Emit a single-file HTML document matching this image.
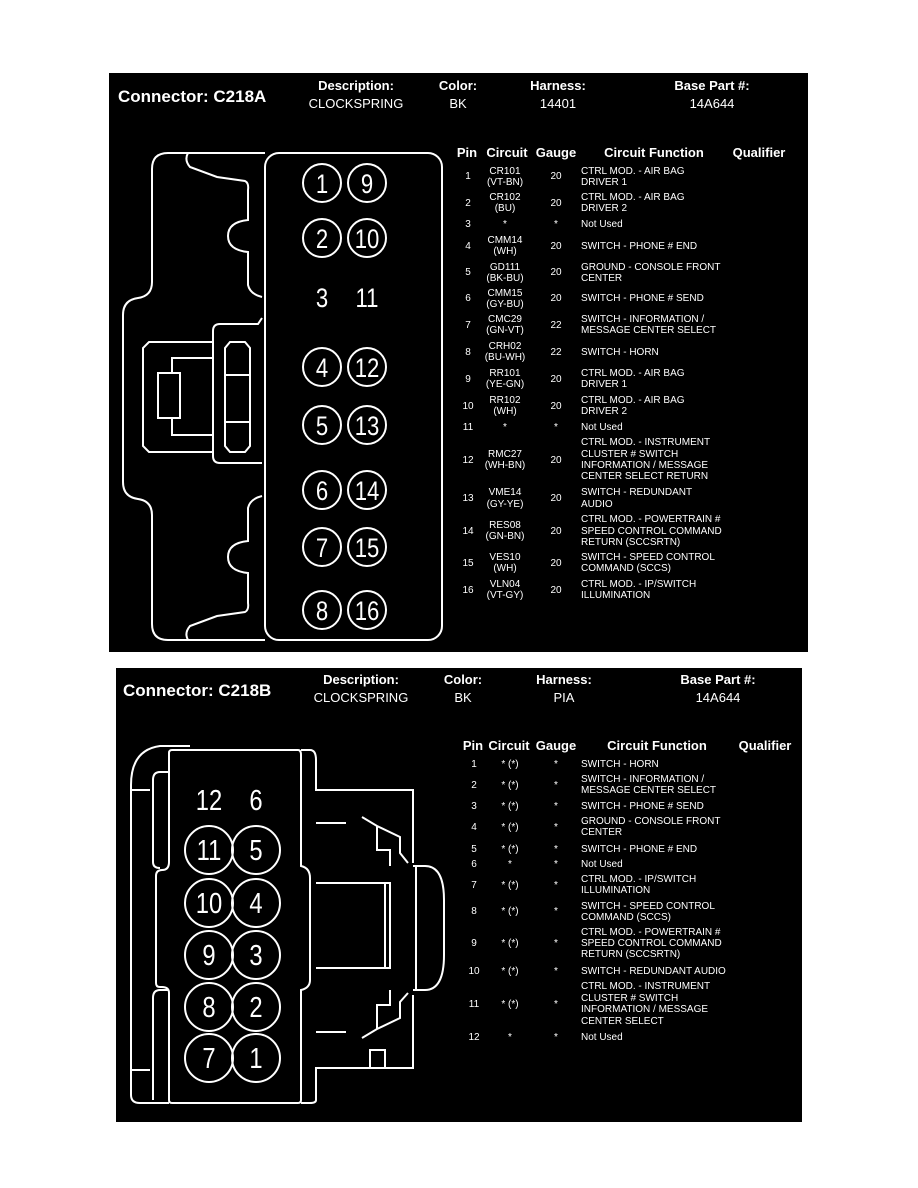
<!DOCTYPE html>
<html><head><meta charset="utf-8"><style>
html,body{margin:0;padding:0;background:#fff}
svg{display:block}
text{font-family:"Liberation Sans",Arial,sans-serif;fill:#fff}
.h{font-weight:bold;font-size:13px;text-anchor:middle}
.v{font-size:13px;text-anchor:middle}
.t{font-size:10px}
.c{text-anchor:middle}
.n{font-size:27px;text-anchor:middle}
.ln{fill:none;stroke:#fff;stroke-width:2}
</style></head><body>
<svg width="918" height="1188" viewBox="0 0 918 1188" xmlns="http://www.w3.org/2000/svg">
<rect x="109" y="73" width="699" height="579" fill="#000"/>
<rect x="116" y="668" width="686" height="454" fill="#000"/>

<text x="118" y="102" style="font-weight:bold;font-size:17px">Connector: C218A</text>
<text class="h" x="356" y="90">Description:</text><text class="v" x="356" y="108">CLOCKSPRING</text>
<text class="h" x="458" y="90">Color:</text><text class="v" x="458" y="108">BK</text>
<text class="h" x="558" y="90">Harness:</text><text class="v" x="558" y="108">14401</text>
<text class="h" x="712" y="90">Base Part #:</text><text class="v" x="712" y="108">14A644</text>

<text class="h" x="467" y="157">Pin</text>
<text class="h" x="507" y="157">Circuit</text>
<text class="h" x="556" y="157">Gauge</text>
<text class="h" x="654" y="157">Circuit Function</text>
<text class="h" x="759" y="157">Qualifier</text>

<g class="t">
<text class="c" x="468" y="179">1</text><text class="c" x="505" y="174">CR101</text><text class="c" x="505" y="185">(VT-BN)</text><text class="c" x="556" y="179">20</text><text x="581" y="174">CTRL MOD. - AIR BAG</text><text x="581" y="185">DRIVER 1</text>
<text class="c" x="468" y="206">2</text><text class="c" x="505" y="200">CR102</text><text class="c" x="505" y="211">(BU)</text><text class="c" x="556" y="206">20</text><text x="581" y="200">CTRL MOD. - AIR BAG</text><text x="581" y="211">DRIVER 2</text>
<text class="c" x="468" y="227">3</text><text class="c" x="505" y="227">*</text><text class="c" x="556" y="227">*</text><text x="581" y="227">Not Used</text>
<text class="c" x="468" y="249">4</text><text class="c" x="505" y="243">CMM14</text><text class="c" x="505" y="254">(WH)</text><text class="c" x="556" y="249">20</text><text x="581" y="249">SWITCH - PHONE # END</text>
<text class="c" x="468" y="275">5</text><text class="c" x="505" y="270">GD111</text><text class="c" x="505" y="281">(BK-BU)</text><text class="c" x="556" y="275">20</text><text x="581" y="270">GROUND - CONSOLE FRONT</text><text x="581" y="281">CENTER</text>
<text class="c" x="468" y="301">6</text><text class="c" x="505" y="296">CMM15</text><text class="c" x="505" y="307">(GY-BU)</text><text class="c" x="556" y="301">20</text><text x="581" y="301">SWITCH - PHONE # SEND</text>
<text class="c" x="468" y="328">7</text><text class="c" x="505" y="322">CMC29</text><text class="c" x="505" y="333">(GN-VT)</text><text class="c" x="556" y="328">22</text><text x="581" y="322">SWITCH - INFORMATION /</text><text x="581" y="333">MESSAGE CENTER SELECT</text>
<text class="c" x="468" y="355">8</text><text class="c" x="505" y="349">CRH02</text><text class="c" x="505" y="360">(BU-WH)</text><text class="c" x="556" y="355">22</text><text x="581" y="355">SWITCH - HORN</text>
<text class="c" x="468" y="382">9</text><text class="c" x="505" y="376">RR101</text><text class="c" x="505" y="387">(YE-GN)</text><text class="c" x="556" y="382">20</text><text x="581" y="376">CTRL MOD. - AIR BAG</text><text x="581" y="387">DRIVER 1</text>
<text class="c" x="468" y="409">10</text><text class="c" x="505" y="403">RR102</text><text class="c" x="505" y="414">(WH)</text><text class="c" x="556" y="409">20</text><text x="581" y="403">CTRL MOD. - AIR BAG</text><text x="581" y="414">DRIVER 2</text>
<text class="c" x="468" y="430">11</text><text class="c" x="505" y="430">*</text><text class="c" x="556" y="430">*</text><text x="581" y="430">Not Used</text>
<text class="c" x="468" y="463">12</text><text class="c" x="505" y="457">RMC27</text><text class="c" x="505" y="468">(WH-BN)</text><text class="c" x="556" y="463">20</text><text x="581" y="445">CTRL MOD. - INSTRUMENT</text><text x="581" y="457">CLUSTER # SWITCH</text><text x="581" y="468">INFORMATION / MESSAGE</text><text x="581" y="479">CENTER SELECT RETURN</text>
<text class="c" x="468" y="501">13</text><text class="c" x="505" y="495">VME14</text><text class="c" x="505" y="507">(GY-YE)</text><text class="c" x="556" y="501">20</text><text x="581" y="495">SWITCH - REDUNDANT</text><text x="581" y="507">AUDIO</text>
<text class="c" x="468" y="534">14</text><text class="c" x="505" y="528">RES08</text><text class="c" x="505" y="539">(GN-BN)</text><text class="c" x="556" y="534">20</text><text x="581" y="522">CTRL MOD. - POWERTRAIN #</text><text x="581" y="534">SPEED CONTROL COMMAND</text><text x="581" y="545">RETURN (SCCSRTN)</text>
<text class="c" x="468" y="566">15</text><text class="c" x="505" y="560">VES10</text><text class="c" x="505" y="571">(WH)</text><text class="c" x="556" y="566">20</text><text x="581" y="560">SWITCH - SPEED CONTROL</text><text x="581" y="571">COMMAND (SCCS)</text>
<text class="c" x="468" y="593">16</text><text class="c" x="505" y="587">VLN04</text><text class="c" x="505" y="598">(VT-GY)</text><text class="c" x="556" y="593">20</text><text x="581" y="587">CTRL MOD. - IP/SWITCH</text><text x="581" y="598">ILLUMINATION</text>
</g>

<rect class="ln" x="265" y="153" width="177" height="487" rx="14"/>
<path class="ln" d="M265 153 H168 Q152 153 152 169 V282 Q152 296 138 298 Q123 300 123 315 V482 Q123 497 138 499 Q152 501 152 515 V624 Q152 640 168 640 H265"/>
<path class="ln" d="M188 153 Q184 160 190 167 L217 177 L245 181 Q249 183 248 190 V220 Q228 222 228 236 Q228 250 248 252 V285 Q250 294 262 297"/>
<path class="ln" d="M188 640 Q184 633 190 626 L217 616 L245 612 Q249 610 248 603 V573 Q228 571 228 557 Q228 543 248 541 V508 Q250 499 262 496"/>
<path class="ln" d="M262 318 L258 324 H220 Q213 324 213 331 V456 Q213 463 220 463 H262"/>
<path class="ln" d="M213 342 H149 L143 348 V446 L149 452 H213"/>
<rect class="ln" x="158" y="373" width="22" height="45"/>
<path class="ln" d="M172 373 V358 H213 M172 418 V435 H213"/>
<path class="ln" d="M230 342 H245 L250 348 V446 L245 452 H230 L225 446 V348 Z M225 375 H250 M225 422 H250"/>
<g class="ln">
<circle cx="322" cy="183" r="19"/><circle cx="367" cy="183" r="19"/>
<circle cx="322" cy="238" r="19"/><circle cx="367" cy="238" r="19"/>
<circle cx="322" cy="367" r="19"/><circle cx="367" cy="367" r="19"/>
<circle cx="322" cy="425" r="19"/><circle cx="367" cy="425" r="19"/>
<circle cx="322" cy="490" r="19"/><circle cx="367" cy="490" r="19"/>
<circle cx="322" cy="547" r="19"/><circle cx="367" cy="547" r="19"/>
<circle cx="322" cy="610" r="19"/><circle cx="367" cy="610" r="19"/>
</g>
<g class="n">
<text transform="translate(322 193) scale(0.82 1)">1</text><text transform="translate(367 193) scale(0.82 1)">9</text>
<text transform="translate(322 248) scale(0.82 1)">2</text><text transform="translate(367 248) scale(0.82 1)">10</text>
<text transform="translate(322 307) scale(0.82 1)">3</text><text transform="translate(367 307) scale(0.82 1)">11</text>
<text transform="translate(322 377) scale(0.82 1)">4</text><text transform="translate(367 377) scale(0.82 1)">12</text>
<text transform="translate(322 435) scale(0.82 1)">5</text><text transform="translate(367 435) scale(0.82 1)">13</text>
<text transform="translate(322 500) scale(0.82 1)">6</text><text transform="translate(367 500) scale(0.82 1)">14</text>
<text transform="translate(322 557) scale(0.82 1)">7</text><text transform="translate(367 557) scale(0.82 1)">15</text>
<text transform="translate(322 620) scale(0.82 1)">8</text><text transform="translate(367 620) scale(0.82 1)">16</text>
</g>

<text x="123" y="696" style="font-weight:bold;font-size:17px">Connector: C218B</text>
<text class="h" x="361" y="684">Description:</text><text class="v" x="361" y="702">CLOCKSPRING</text>
<text class="h" x="463" y="684">Color:</text><text class="v" x="463" y="702">BK</text>
<text class="h" x="564" y="684">Harness:</text><text class="v" x="564" y="702">PIA</text>
<text class="h" x="718" y="684">Base Part #:</text><text class="v" x="718" y="702">14A644</text>

<text class="h" x="473" y="750">Pin</text>
<text class="h" x="509" y="750">Circuit</text>
<text class="h" x="556" y="750">Gauge</text>
<text class="h" x="657" y="750">Circuit Function</text>
<text class="h" x="765" y="750">Qualifier</text>

<g class="t">
<text class="c" x="474" y="767">1</text><text class="c" x="510" y="767">* (*)</text><text class="c" x="556" y="767">*</text><text x="581" y="767">SWITCH - HORN</text>
<text class="c" x="474" y="788">2</text><text class="c" x="510" y="788">* (*)</text><text class="c" x="556" y="788">*</text><text x="581" y="782">SWITCH - INFORMATION /</text><text x="581" y="793">MESSAGE CENTER SELECT</text>
<text class="c" x="474" y="809">3</text><text class="c" x="510" y="809">* (*)</text><text class="c" x="556" y="809">*</text><text x="581" y="809">SWITCH - PHONE # SEND</text>
<text class="c" x="474" y="830">4</text><text class="c" x="510" y="830">* (*)</text><text class="c" x="556" y="830">*</text><text x="581" y="824">GROUND - CONSOLE FRONT</text><text x="581" y="835">CENTER</text>
<text class="c" x="474" y="852">5</text><text class="c" x="510" y="852">* (*)</text><text class="c" x="556" y="852">*</text><text x="581" y="852">SWITCH - PHONE # END</text>
<text class="c" x="474" y="867">6</text><text class="c" x="510" y="867">*</text><text class="c" x="556" y="867">*</text><text x="581" y="867">Not Used</text>
<text class="c" x="474" y="888">7</text><text class="c" x="510" y="888">* (*)</text><text class="c" x="556" y="888">*</text><text x="581" y="882">CTRL MOD. - IP/SWITCH</text><text x="581" y="893">ILLUMINATION</text>
<text class="c" x="474" y="914">8</text><text class="c" x="510" y="914">* (*)</text><text class="c" x="556" y="914">*</text><text x="581" y="909">SWITCH - SPEED CONTROL</text><text x="581" y="920">COMMAND (SCCS)</text>
<text class="c" x="474" y="946">9</text><text class="c" x="510" y="946">* (*)</text><text class="c" x="556" y="946">*</text><text x="581" y="935">CTRL MOD. - POWERTRAIN #</text><text x="581" y="946">SPEED CONTROL COMMAND</text><text x="581" y="957">RETURN (SCCSRTN)</text>
<text class="c" x="474" y="974">10</text><text class="c" x="510" y="974">* (*)</text><text class="c" x="556" y="974">*</text><text x="581" y="974">SWITCH - REDUNDANT AUDIO</text>
<text class="c" x="474" y="1007">11</text><text class="c" x="510" y="1007">* (*)</text><text class="c" x="556" y="1007">*</text><text x="581" y="989">CTRL MOD. - INSTRUMENT</text><text x="581" y="1001">CLUSTER # SWITCH</text><text x="581" y="1012">INFORMATION / MESSAGE</text><text x="581" y="1024">CENTER SELECT</text>
<text class="c" x="474" y="1040">12</text><text class="c" x="510" y="1040">*</text><text class="c" x="556" y="1040">*</text><text x="581" y="1040">Not Used</text>
</g>

<path class="ln" d="M169 753 Q169 750 172 750 H298 Q301 750 301 755 V866 Q310 868 310 878 V980 Q310 988 301 990 V1100 Q301 1103 298 1103 H172 Q169 1103 169 1100 V993 Q169 987 162 987 H160 Q156 987 156 983 V876 Q156 870 162 870 Q169 870 169 862 Z"/>
<path class="ln" d="M190 746 H160 Q131 750 131 785 V1095 Q131 1103 140 1103 H169"/>
<path class="ln" d="M169 772 H160 Q153 772 153 780 V862 Q153 868 160 868 M169 990 H160 Q153 990 153 998 V1100"/>
<path class="ln" d="M131 790 H150 M131 1070 H150"/>
<path class="ln" d="M301 750 H310 Q316 750 316 760 V790 H413 V863 M413 995 V1068 H316 V1100 Q316 1103 310 1103 H301"/>
<path class="ln" d="M413 866 H425 Q444 866 444 900 V955 Q444 990 425 990 H413 M416 866 V990"/>
<path class="ln" d="M316 883 H390 V968 H316 M385 883 V968"/>
<path class="ln" d="M316 823 H346 M362 817 L377 826 L400 837 L400 853 L408 863 M377 826 V850 H390 V866"/>
<path class="ln" d="M316 1032 H346 M362 1038 L377 1029 L400 1018 L400 1002 L408 993 M377 1029 V1005 H390 V990"/>
<rect class="ln" x="370" y="1050" width="15" height="18"/>
<g class="ln">
<circle cx="209" cy="850" r="24"/><circle cx="256" cy="850" r="24"/>
<circle cx="209" cy="903" r="24"/><circle cx="256" cy="903" r="24"/>
<circle cx="209" cy="955" r="24"/><circle cx="256" cy="955" r="24"/>
<circle cx="209" cy="1007" r="24"/><circle cx="256" cy="1007" r="24"/>
<circle cx="209" cy="1058" r="24"/><circle cx="256" cy="1058" r="24"/>
</g>
<g class="n" style="font-size:29px">
<text transform="translate(209 810) scale(0.82 1)">12</text><text transform="translate(256 810) scale(0.82 1)">6</text>
<text transform="translate(209 860) scale(0.82 1)">11</text><text transform="translate(256 860) scale(0.82 1)">5</text>
<text transform="translate(209 913) scale(0.82 1)">10</text><text transform="translate(256 913) scale(0.82 1)">4</text>
<text transform="translate(209 965) scale(0.82 1)">9</text><text transform="translate(256 965) scale(0.82 1)">3</text>
<text transform="translate(209 1017) scale(0.82 1)">8</text><text transform="translate(256 1017) scale(0.82 1)">2</text>
<text transform="translate(209 1068) scale(0.82 1)">7</text><text transform="translate(256 1068) scale(0.82 1)">1</text>
</g>
</svg>
</body></html>
